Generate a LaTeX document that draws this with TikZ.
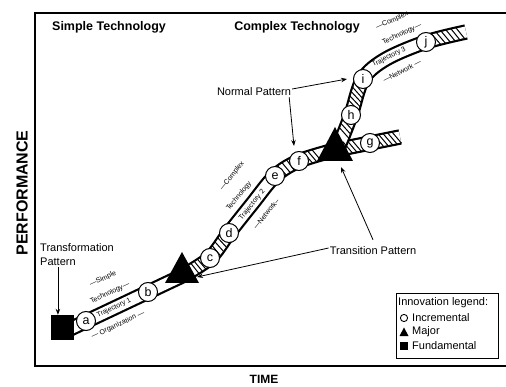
\documentclass[tikz,border=0pt]{standalone}
\usepackage{fontspec}
\setmainfont{Liberation Sans}
\usetikzlibrary{arrows.meta,decorations.markings}
% one hatch stroke across a band, in the band's own frame
\newcommand\hmk[2]{\draw[hatchline] (#1pt,6.5pt) -- (#2pt,-6.5pt);}
\begin{document}
\begin{tikzpicture}[x=1pt,y=-1pt,
  frame/.style={line width=1.8pt},
  band/.style={line width=2.2pt, double=white, double distance=11pt, line cap=butt, line join=round},
  hatchline/.style={line width=1pt},
  inc/.style={circle, draw, line width=1pt, fill=white, minimum size=19pt, inner sep=0pt,
    font=\fontsize{12.5}{12.5}\selectfont},
  fund/.style={fill=black, minimum width=23pt, minimum height=25pt, inner sep=0pt},
  major/.style={fill=black},
  title/.style={font=\bfseries\fontsize{12.5}{14}\selectfont},
  axisy/.style={font=\bfseries\fontsize{16}{18}\selectfont},
  axisx/.style={font=\bfseries\fontsize{12}{14}\selectfont},
  lab/.style={font=\fontsize{11}{13}\selectfont, inner sep=1pt},
  tiny/.style={font=\fontsize{7}{8}\selectfont, inner sep=0pt},
  legtxt/.style={font=\fontsize{11}{12}\selectfont, inner sep=0pt, anchor=west},
  arr/.style={line width=0.8pt, -{Stealth[length=6pt,width=4.5pt]}},
]
\useasboundingbox (0,0) rectangle (506,387);

% axes frame
\draw[frame] (506,13) -- (35,13) -- (35,366) -- (506,366);

% points along the trajectories
\coordinate (s0) at (70,329);
\coordinate (pa) at (86,321);
\coordinate (pb) at (148,292);
\coordinate (t1) at (182,276);
\coordinate (pc) at (210,258);
\coordinate (pd) at (229,233);
\coordinate (m2) at (252,204);
\coordinate (pe) at (275,176);
\coordinate (pf) at (299,161);
\coordinate (t2) at (335,150);
\coordinate (pg) at (370,143);
\coordinate (gend) at (400,137);
\coordinate (t2b) at (339,146);
\coordinate (ph) at (351,115);
\coordinate (pi) at (363,79);
\coordinate (m3) at (386,59);
\coordinate (pj) at (426,42);
\coordinate (jend) at (466,32);
\coordinate (T1tip) at (197,277);
\coordinate (T2tip) at (341,167);
\coordinate (fTip) at (294,146);

% trajectory bands
\draw[band] (s0) -- (t1);
\draw[band] plot[smooth,tension=0.55] coordinates {(t1) (pc) (pd) (m2) (pe) (pf) (t2)};
\draw[band] plot[smooth,tension=0.55] coordinates {(t2) (pg) (gend)};
\draw[band] plot[smooth,tension=0.55] coordinates {(t2b) (ph) (pi) (m3) (pj) (jend)};

% hatching inside the bands
\path[decorate, decoration={markings,
  mark=between positions 15pt and 23pt step 4pt with {\hmk{-0.8}{0.8}},
  mark=between positions 43pt and 54pt step 5pt with {\hmk{1.5}{-1.5}},
  mark=between positions 147pt and 157pt step 5pt with {\hmk{-0.9}{0.9}},
  mark=between positions 176pt and 189pt step 4.5pt with {\hmk{-2.8}{2.8}}}]
  plot[smooth,tension=0.55] coordinates {(t1) (pc) (pd) (m2) (pe) (pf) (t2)};
\path[decorate, decoration={markings,
  mark=between positions 13pt and 24pt step 4.5pt with {\hmk{-3.6}{3.6}},
  mark=between positions 45pt and 63pt step 4.5pt with {\hmk{-3.6}{3.6}}}]
  plot[smooth,tension=0.55] coordinates {(t2) (pg) (gend)};
\path[decorate, decoration={markings,
  mark=between positions 14pt and 23pt step 4.5pt with {\hmk{3.3}{-3.3}},
  mark=between positions 43pt and 62pt step 4.5pt with {\hmk{4}{-4}},
  mark=between positions 156pt and 182pt step 5pt with {\hmk{-3.2}{3.2}}}]
  plot[smooth,tension=0.55] coordinates {(t2b) (ph) (pi) (m3) (pj) (jend)};

% incremental innovations
\node[inc] (ca) at (pa) {a};
\node[inc] (cb) at (pb) {b};
\node[inc] (cc) at (pc) {c};
\node[inc] (cd) at (pd) {d};
\node[inc] (ce) at (pe) {e};
\node[inc] (cf) at (pf) {f};
\node[inc] (cg) at (pg) {g};
\node[inc] (ch) at (ph) {h};
\node[inc] (ci) at (pi) {i};
\node[inc] (cj) at (pj) {j};

% major and fundamental innovations
\fill[major] (182,252) -- (165,283) -- (199,283) -- cycle;
\fill[major] (335,127) -- (317,161) -- (353,161) -- cycle;
\node[fund] (sq) at (62.5,327.5) {};

% band annotations
\node[tiny, rotate=25] (l1a) at (103,279) {---Simple};
\node[tiny, rotate=25] (l1b) at (110,293) {Technology---};
\node[tiny, rotate=25] (l1c) at (114,308) {Trajectory 1};
\node[tiny, rotate=25] (l1d) at (118,325) {--- Organization ---};
\node[tiny, rotate=51] (l2a) at (232,176) {---Complex};
\node[tiny, rotate=51] (l2b) at (239,196) {Technology};
\node[tiny, rotate=51] (l2c) at (252,205) {Trajectory 2};
\node[tiny, rotate=51] (l2d) at (266,214) {---Network--};
\node[tiny, rotate=25] (l3a) at (392,21) {---Complex};
\node[tiny, rotate=25] (l3b) at (402,34) {Technology---};
\node[tiny, rotate=27] (l3c) at (389,57) {Trajectory 3};
\node[tiny, rotate=27] (l3d) at (402,71) {---Network ---};

% headings and axis names
\node[title] (st) at (109,27) {Simple Technology};
\node[title] (ct) at (297,27) {Complex Technology};
\node[axisy, rotate=90] (perf) at (22,193) {PERFORMANCE};
\node[axisx] (time) at (264,379) {TIME};

% pattern labels and pointers
\node[lab, anchor=west] (trf1) at (39,248) {Transformation};
\node[lab, anchor=west] (trf2) at (39,262) {Pattern};
\node[lab] (np) at (254,92) {Normal Pattern};
\node[lab] (tp) at (373,251) {Transition Pattern};
\draw[arr] (trf2.south) -- (trf2.south |- sq.north);
\draw[arr] ([yshift=3pt]np.east) -- ([xshift=-6pt]ci.west);
\draw[arr] ([xshift=-3pt]np.south east) -- (fTip);
\draw[arr] ([yshift=6pt]tp.north) -- (T2tip);
\draw[arr] ([yshift=3pt]tp.west) -- (T1tip);

% legend
\node[draw, line width=0.8pt, minimum width=102pt, minimum height=65pt, inner sep=0pt] (leg) at (447,325.5) {};
\node[legtxt] (lg0) at (398,303) {Innovation legend:};
\draw[line width=0.9pt] (404,318) circle (3.6pt);
\fill (404,327.5) -- (399.5,336) -- (408.5,336) -- cycle;
\fill (400,342) rectangle (408,350);
\node[legtxt] (lg1) at (412,318) {Incremental};
\node[legtxt] (lg2) at (412,332) {Major};
\node[legtxt] (lg3) at (412,346) {Fundamental};
\end{tikzpicture}
\end{document}
